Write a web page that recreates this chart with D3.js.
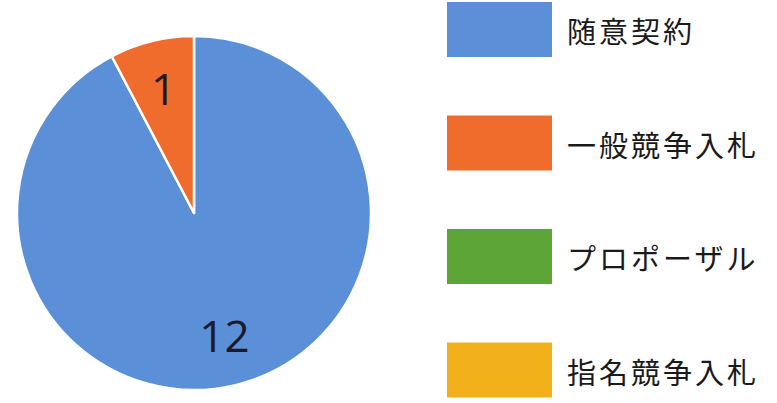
<!DOCTYPE html>
<html><head><meta charset="utf-8">
<script src="https://cdn.jsdelivr.net/npm/d3@7"></script>
<style>html,body{margin:0;padding:0;background:#fff;}</style>
</head><body>
<svg id="chart" width="777" height="403"></svg>
<script>
const categories = ["随意契約", "一般競争入札", "プロポーザル", "指名競争入札"];
const values = [12, 1, 0, 0];
const colors = ["#5b8fd8", "#f06c2c", "#5ea537", "#f2b01a"];

const svg = d3.select("#chart");
const cx = 194, cy = 213, r = 177;

const pie = d3.pie().sort(null).value(d => d.value);
const arcs = pie(categories.map((c, i) => ({name: c, value: values[i], color: colors[i]})));
const arc = d3.arc().innerRadius(0).outerRadius(r);
const labelArc = d3.arc().innerRadius(r * 0.72).outerRadius(r * 0.72);

const g = svg.append("g").attr("transform", `translate(${cx},${cy})`);
g.selectAll("path").data(arcs.filter(d => d.value > 0)).join("path")
  .attr("d", arc).attr("fill", d => d.data.color)
  .attr("stroke", "#fff").attr("stroke-width", 2.5).attr("stroke-linejoin", "round");

g.selectAll("text").data(arcs.filter(d => d.value > 0)).join("text")
  .attr("transform", d => {
    const [x, y] = labelArc.centroid(d);
    return `translate(${x},${y})`;
  })
  .attr("text-anchor", "middle").attr("dy", "0.35em")
  .style("font-family", "'Open Sans','Liberation Sans',sans-serif")
  .style("font-size", "44px").attr("fill", "#1a1a2a")
  .text(d => d.data.value);

// legend
const ly = d3.scaleBand().domain(categories).range([0, 454]).paddingInner(0);
const lg = svg.append("g").attr("transform", "translate(447,2)");
const item = lg.selectAll("g").data(categories).join("g")
  .attr("transform", d => `translate(0,${ly(d)})`);
item.append("rect").attr("width", 105).attr("height", 55)
  .attr("fill", (d, i) => colors[i]);
item.append("text").attr("x", 120).attr("y", 31).attr("dy", "0.35em")
  .style("font-family", "'Noto Sans CJK JP',sans-serif")
  .style("font-size", "29px").style("letter-spacing", "3px").attr("fill", "#1a1a1a")
  .text(d => d);
</script>
</body></html>
